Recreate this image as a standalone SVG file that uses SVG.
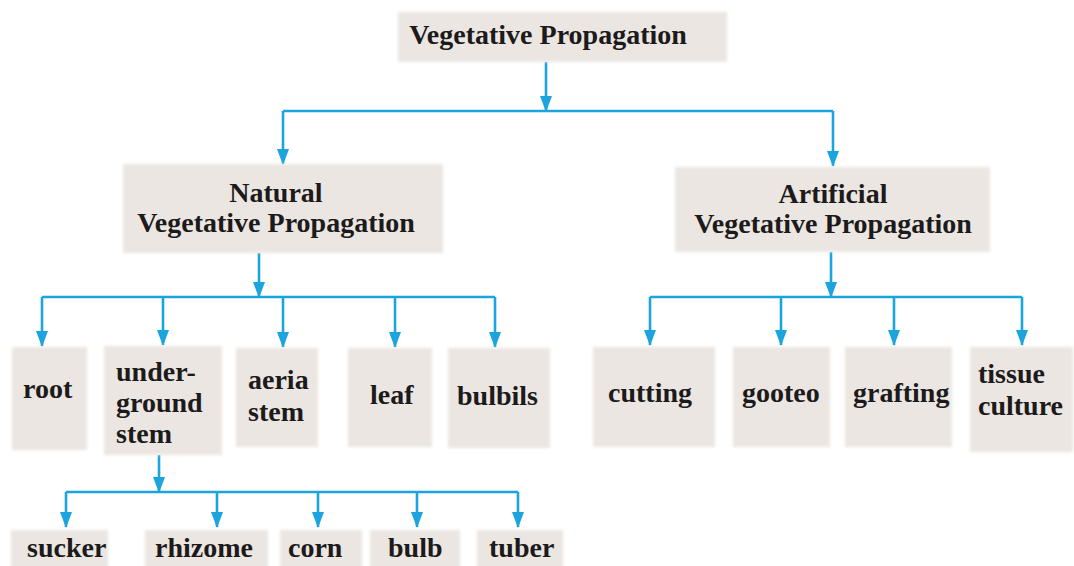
<svg xmlns="http://www.w3.org/2000/svg" width="1074" height="566" viewBox="0 0 1074 566">
<style>
.box{fill:#ebe6e2;filter:url(#soft)}
.t{font-family:"Liberation Serif","Times New Roman",serif;font-weight:bold;font-size:28px;fill:#1c1a1a}
.c{text-anchor:middle}
.ln{fill:none;stroke:#1ba4dd;stroke-width:2.6}
.ar{fill:none;stroke:#1ba4dd;stroke-width:2.6;marker-end:url(#ah)}
</style>
<defs>
<filter id="soft" x="-5%" y="-10%" width="110%" height="120%"><feGaussianBlur stdDeviation="1.5"/></filter>
<marker id="ah" markerUnits="userSpaceOnUse" markerWidth="16" markerHeight="12" viewBox="0 0 16 12" refX="15" refY="6" orient="auto"><path d="M0,0 L16,6 L0,12 Z" fill="#1ba4dd"/></marker>
</defs>
<rect width="1074" height="566" fill="#ffffff"/>
<g id="connectors">
<path class="ar" d="M546,62 V111"/>
<path class="ln" d="M283,111 H833"/>
<path class="ar" d="M283,111 V164"/>
<path class="ar" d="M833,111 V166"/>
<path class="ar" d="M259,253 V297"/>
<path class="ln" d="M42,297 H495"/>
<path class="ar" d="M42,297 V346"/>
<path class="ar" d="M163,297 V345"/>
<path class="ar" d="M283,297 V347"/>
<path class="ar" d="M395,297 V347"/>
<path class="ar" d="M495,297 V347"/>
<path class="ar" d="M831,252 V297"/>
<path class="ln" d="M650,297 H1022"/>
<path class="ar" d="M650,297 V345"/>
<path class="ar" d="M781,297 V345"/>
<path class="ar" d="M894,297 V345"/>
<path class="ar" d="M1022,297 V345"/>
<path class="ar" d="M159,455 V492"/>
<path class="ln" d="M66,492 H518"/>
<path class="ar" d="M66,492 V527"/>
<path class="ar" d="M217,492 V527"/>
<path class="ar" d="M318,492 V527"/>
<path class="ar" d="M417,492 V527"/>
<path class="ar" d="M518,492 V527"/>
</g>
<g id="vegetative-propagation"><rect class="box" x="398" y="12" width="329" height="50"/><text class="t c" x="548" y="44">Vegetative Propagation</text></g>
<g id="natural"><rect class="box" x="123" y="164" width="320" height="89"/><text class="t c" x="276" y="202">Natural</text><text class="t c" x="276" y="232">Vegetative Propagation</text></g>
<g id="artificial"><rect class="box" x="675" y="167" width="315" height="85"/><text class="t c" x="833" y="203">Artificial</text><text class="t c" x="833" y="233">Vegetative Propagation</text></g>
<g id="root"><rect class="box" x="12" y="347" width="75" height="103"/><text class="t" x="23" y="398">root</text></g>
<g id="underground-stem"><rect class="box" x="104" y="346" width="118" height="109"/><text class="t" x="116" y="381">under-</text><text class="t" x="116" y="412">ground</text><text class="t" x="116" y="443">stem</text></g>
<g id="aerial-stem"><rect class="box" x="236" y="348" width="82" height="99"/><text class="t" x="248" y="389">aeria</text><text class="t" x="248" y="421">stem</text></g>
<g id="leaf"><rect class="box" x="348" y="348" width="84" height="99"/><text class="t" x="370" y="404">leaf</text></g>
<g id="bulbils"><rect class="box" x="448" y="348" width="102" height="100"/><text class="t" x="457" y="405">bulbils</text></g>
<g id="cutting"><rect class="box" x="593" y="347" width="122" height="100"/><text class="t" x="608" y="402">cutting</text></g>
<g id="gooteo"><rect class="box" x="733" y="347" width="97" height="100"/><text class="t" x="742" y="402">gooteo</text></g>
<g id="grafting"><rect class="box" x="845" y="347" width="107" height="100"/><text class="t" x="853" y="402">grafting</text></g>
<g id="tissue-culture"><rect class="box" x="970" y="347" width="103" height="105"/><text class="t" x="978" y="383">tissue</text><text class="t" x="978" y="415">culture</text></g>
<g id="sucker"><rect class="box" x="11" y="530" width="97" height="40"/><text class="t" x="27" y="557">sucker</text></g>
<g id="rhizome"><rect class="box" x="145" y="530" width="123" height="40"/><text class="t" x="155" y="557">rhizome</text></g>
<g id="corn"><rect class="box" x="280" y="530" width="82" height="40"/><text class="t" x="288" y="557">corn</text></g>
<g id="bulb"><rect class="box" x="370" y="530" width="90" height="40"/><text class="t" x="388" y="557">bulb</text></g>
<g id="tuber"><rect class="box" x="477" y="530" width="86" height="40"/><text class="t" x="489" y="557">tuber</text></g>
</svg>
